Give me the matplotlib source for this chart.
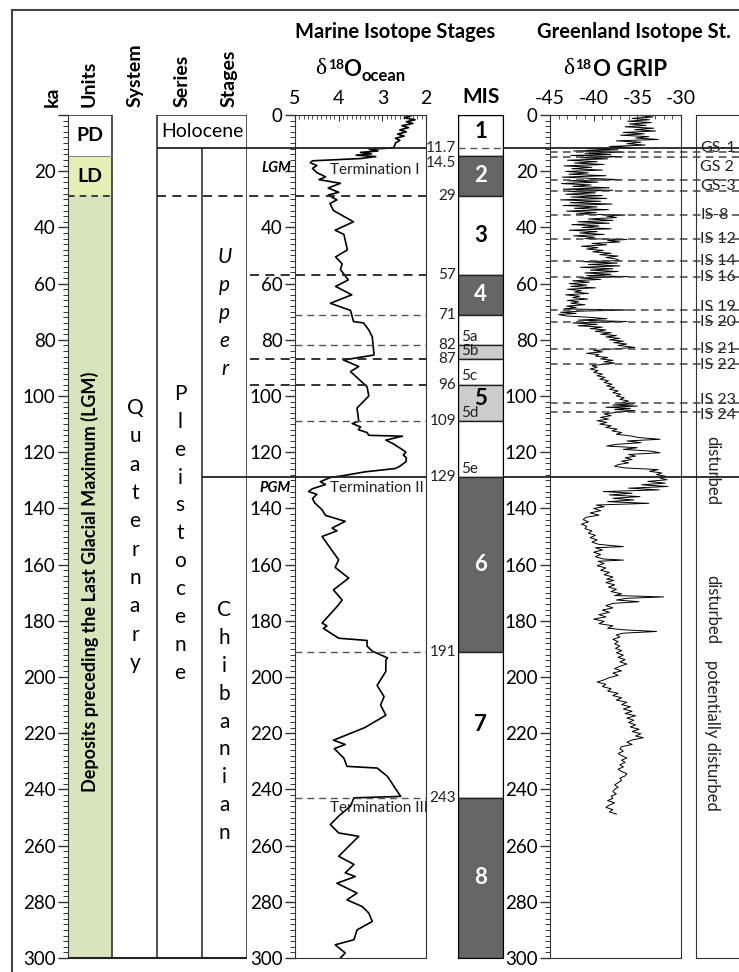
import matplotlib
matplotlib.use("Agg")
import matplotlib.pyplot as plt
from matplotlib.lines import Line2D
from matplotlib.ticker import MultipleLocator

# ----------------------------------------------------------------------
# Chronostratigraphic chart: units, marine isotope stages, GRIP d18O
# ----------------------------------------------------------------------

plt.rcParams['font.family'] = ['Lato', 'DejaVu Sans']
plt.rcParams['axes.unicode_minus'] = False

# --- lithostratigraphic units (ka)
unit_names = ['PD', 'LD', '']
unit_top = [0, 14.5, 29]
unit_base = [14.5, 29, 300]
unit_colors = ['#ffffff', '#e6efb3', '#d8e4bc']

# --- marine isotope stages
mis_names = ['1', '2', '3', '4', '', '', '', '5', '', '6', '7', '8']
mis_top = [0, 14.5, 29, 57, 71, 82, 87, 96, 109, 129, 191, 243]
mis_base = [14.5, 29, 57, 71, 82, 87, 96, 109, 129, 191, 243, 300]
mis_shade = ['#ffffff', '#666666', '#ffffff', '#666666', '#ffffff', '#cccccc',
             '#ffffff', '#cccccc', '#ffffff', '#666666', '#ffffff', '#666666']
mis_label_ka = [5.8, 21.7, 43, 64, 0, 0, 0, 101, 0, 160, 217, 271.5]
mis_sub = ['5a', '5b', '5c', '5d', '5e']
mis_sub_base = [82, 87, 96, 109, 129]
mis_bounds = ['11.7', '14.5', '29', '57', '71', '82', '87', '96', '109', '129', '191', '243']

# --- terminations
term_names = ['Termination I', 'Termination II', 'Termination III']
term_ka = [19.5, 132.7, 246.6]

# --- Greenland stadials / interstadials
gs_names = ['GS-1', 'GS 2', 'GS-3', 'IS-8', 'IS 12', 'IS 14', 'IS 16',
            'IS 19', 'IS 20', 'IS 21', 'IS 22', 'IS 23', 'IS 24']
gs_label_ka = [11.7, 18.5, 25.4, 35.6, 44.2, 51.8, 57.5, 68.2, 73.7, 83.1, 88.8, 101.3, 106.6]
grip_events = [13.2, 15.0, 23.0, 27.0, 35.6, 44.2, 51.8, 57.5, 69.4, 73.5, 83.3, 88.6, 102.4, 105.8]
grip_notes = ['disturbed', 'disturbed', 'potentially disturbed']
grip_note_ka = [126.5, 176, 220.6]

# --- benthic d18O stack (ka, permil)
marine_curve = [
    (0.3, 2.35), (1.0, 2.50), (1.7, 2.25), (2.4, 2.45), (3.0, 2.30), (3.8, 2.55), (4.5, 2.40),
    (5.3, 2.60), (6.0, 2.45), (6.8, 2.65), (7.5, 2.50), (8.3, 2.70), (9.0, 2.60), (10.0, 2.70),
    (11.0, 2.72), (11.7, 2.75), (12.2, 3.30), (12.8, 3.10), (13.3, 3.50), (13.8, 3.25),
    (14.3, 3.60), (14.8, 3.15), (15.5, 3.50), (16.3, 4.60), (17.0, 4.65), (18.0, 4.50),
    (19.0, 4.60), (20.5, 4.50), (22.0, 4.30), (23.0, 4.45), (24.3, 3.96), (26.0, 4.24),
    (27.5, 4.00), (28.5, 4.24), (30.2, 4.04), (31.5, 4.20), (34.0, 4.12), (38.0, 3.66),
    (41.0, 4.08), (42.5, 3.88), (48.0, 3.80), (50.5, 4.07), (53.0, 3.92), (55.0, 3.96),
    (58.7, 3.78), (61.0, 4.07), (64.0, 3.70), (67.0, 4.19), (68.5, 3.92), (69.5, 3.73),
    (73.5, 3.66), (74.0, 3.43), (76.5, 3.31), (79.0, 3.23), (85.4, 3.19), (87.2, 3.89),
    (89.5, 3.54), (91.3, 3.73), (96.7, 3.35), (100.0, 3.31), (104.3, 3.58), (109.0, 3.54),
    (109.8, 3.69), (111.0, 3.50), (112.0, 3.55), (113.0, 3.35), (114.0, 3.31), (114.3, 2.54),
    (115.7, 2.92), (117.0, 2.75), (118.0, 2.65), (119.0, 2.55), (120.0, 2.46), (121.0, 2.52),
    (122.0, 2.45), (123.4, 2.46), (125.0, 2.60), (125.8, 2.70), (127.0, 3.40), (128.3, 3.88),
    (129.0, 4.19), (130.5, 4.42), (131.5, 4.30), (133.0, 4.60), (134.0, 4.69), (135.0, 4.50),
    (136.5, 4.60), (138.0, 4.55), (140.5, 4.38), (142.5, 4.30), (144.6, 3.85), (147.0, 4.15),
    (148.0, 4.04), (150.0, 4.38), (158.3, 4.00), (161.0, 4.08), (164.8, 3.77), (169.0, 4.12),
    (172.6, 3.92), (175.0, 4.04), (180.8, 4.38), (181.8, 4.27), (182.7, 4.35), (186.2, 4.00),
    (187.0, 3.35), (189.0, 3.35), (190.8, 3.23), (193.2, 2.88), (194.0, 2.92), (198.0, 2.92),
    (203.0, 3.12), (207.0, 2.96), (210.0, 3.04), (213.6, 2.92), (218.0, 3.40), (222.5, 4.12),
    (224.0, 3.85), (225.5, 4.10), (228.9, 3.88), (231.8, 3.81), (232.4, 3.12), (235.4, 2.88),
    (239.0, 2.73), (242.5, 2.58), (243.0, 3.65), (246.0, 3.73), (249.5, 4.00), (252.5, 4.19),
    (255.5, 4.00), (256.7, 3.54), (263.8, 4.00), (266.7, 3.65), (269.7, 3.85), (271.0, 3.62),
    (273.4, 4.04), (276.9, 3.58), (279.3, 3.81), (281.7, 3.46), (284.0, 3.31), (287.0, 3.23),
    (290.0, 3.58), (293.5, 3.65), (295.3, 4.08), (298.2, 3.85), (300.0, 3.96),
]

# --- GRIP ice core d18O (ka, permil)
grip_curve = [
    (0.2, -34.8), (0.7, -33.2), (1.2, -35.6), (1.7, -33.6), (2.2, -36.1), (2.7, -33.4),
    (3.2, -35.9), (3.7, -34.0), (4.2, -36.4), (4.7, -33.1), (5.2, -35.3), (5.7, -32.9),
    (6.2, -36.6), (6.7, -34.2), (7.2, -36.9), (7.7, -33.7), (8.2, -35.2), (8.7, -32.6),
    (9.2, -37.4), (9.7, -34.6), (10.2, -36.2), (10.7, -34.1), (11.2, -38.2), (11.6, -35.4),
    (12.0, -40.8), (12.4, -37.2), (12.8, -42.3), (13.2, -36.5), (13.6, -41.0), (14.0, -38.0),
    (14.4, -42.6), (14.8, -36.8), (15.2, -41.5), (15.6, -38.4), (16.1, -43.0), (16.6, -39.6),
    (17.1, -42.2), (17.6, -38.8), (18.1, -43.4), (18.6, -40.2), (19.1, -42.5), (19.6, -39.0),
    (20.1, -43.2), (20.6, -40.6), (21.1, -42.8), (21.6, -38.6), (22.1, -43.6), (22.6, -40.0),
    (23.0, -37.0), (23.4, -43.0), (23.9, -39.5), (24.4, -43.7), (24.9, -40.3), (25.4, -42.4),
    (25.9, -38.2), (26.4, -43.5), (26.8, -37.8), (27.2, -42.9), (27.7, -39.8), (28.2, -43.2),
    (28.7, -39.0), (29.2, -42.6), (29.7, -38.5), (30.2, -43.8), (30.7, -39.2), (31.2, -42.7),
    (31.7, -37.9), (32.2, -43.5), (32.7, -39.6), (33.2, -42.2), (33.7, -38.3), (34.2, -43.1),
    (34.7, -39.7), (35.2, -42.0), (35.6, -36.4), (36.0, -38.5), (36.5, -37.4), (37.0, -40.6),
    (37.5, -37.8), (38.0, -41.8), (38.5, -38.2), (39.0, -42.5), (39.5, -39.4), (40.0, -41.3),
    (40.5, -38.0), (41.0, -42.8), (41.5, -39.6), (42.0, -41.6), (42.5, -38.8), (43.0, -42.3),
    (43.5, -39.9), (44.0, -41.0), (44.3, -36.2), (44.7, -38.4), (45.2, -37.0), (45.7, -40.2),
    (46.2, -38.5), (46.7, -41.4), (47.2, -39.5), (47.7, -40.8), (48.2, -38.9), (48.7, -40.1),
    (49.2, -38.0), (49.7, -39.3), (50.2, -37.2), (50.7, -38.6), (51.2, -37.5), (51.8, -37.0),
    (52.2, -41.2), (52.7, -37.3), (53.2, -40.6), (53.7, -37.0), (54.2, -41.5), (54.7, -37.8),
    (55.2, -40.4), (55.7, -37.2), (56.2, -41.0), (56.7, -38.0), (57.2, -40.8), (57.5, -36.0),
    (58.0, -41.6), (58.5, -39.2), (59.0, -42.4), (59.5, -40.5), (60.0, -42.8), (60.5, -40.8),
    (61.0, -42.6), (61.5, -39.8), (62.0, -43.0), (62.5, -41.4), (63.0, -42.2), (63.5, -40.6),
    (64.0, -43.2), (64.5, -41.6), (65.0, -42.4), (65.5, -40.7), (66.0, -43.0), (66.5, -41.7),
    (67.0, -42.6), (67.5, -41.0), (68.0, -43.1), (68.5, -42.0), (69.0, -43.4), (69.4, -36.0),
    (69.8, -41.5), (70.2, -43.8), (70.6, -42.0), (71.0, -44.0), (71.5, -43.2), (72.0, -40.5),
    (72.5, -38.5), (73.0, -41.8), (73.5, -36.2), (74.0, -42.4), (74.5, -39.6), (75.0, -41.8),
    (75.5, -39.0), (76.0, -40.4), (76.5, -38.6), (77.0, -39.8), (77.5, -38.0), (78.0, -39.2),
    (78.5, -37.4), (79.0, -38.6), (79.5, -37.0), (80.0, -38.2), (80.5, -36.6), (81.0, -37.7),
    (81.5, -36.2), (82.0, -37.2), (82.7, -35.3), (83.3, -37.8), (83.8, -40.0), (84.3, -39.0),
    (84.8, -40.8), (85.3, -39.4), (85.8, -39.8), (86.3, -38.4), (86.8, -39.2), (87.3, -37.8),
    (87.8, -38.8), (88.3, -37.6), (88.6, -38.5), (89.2, -40.2), (89.8, -39.6), (90.4, -40.4),
    (91.0, -39.5), (91.6, -40.0), (92.2, -39.0), (92.8, -39.6), (93.4, -38.7), (94.0, -39.3),
    (94.6, -38.3), (95.2, -38.8), (95.8, -37.9), (96.4, -38.5), (97.0, -37.6), (97.6, -38.2),
    (98.2, -37.2), (98.8, -37.8), (99.4, -36.9), (100.0, -37.4), (100.6, -36.5), (101.2, -37.0),
    (101.8, -36.0), (102.4, -36.8), (102.8, -35.4), (103.2, -37.8), (103.6, -35.0), (104.0, -38.6),
    (104.4, -35.8), (104.8, -37.6), (105.2, -35.3), (105.8, -37.4), (106.4, -38.8), (107.0, -38.0),
    (107.6, -39.2), (108.2, -38.3), (108.8, -39.6), (109.4, -38.5), (110.0, -39.3), (110.6, -38.0),
    (111.2, -38.6), (111.8, -37.3), (112.4, -37.9), (113.0, -36.8), (113.6, -37.4), (114.2, -35.8),
    (114.8, -34.8), (115.4, -32.4), (116.0, -36.2), (116.6, -34.6), (117.2, -37.4), (117.8, -38.5),
    (118.4, -35.0), (119.0, -36.6), (119.6, -33.5), (120.2, -32.4), (120.8, -36.0), (121.4, -35.2),
    (122.0, -36.4), (122.6, -35.6), (123.2, -36.8), (123.8, -36.0), (124.4, -37.2), (125.0, -37.6),
    (125.6, -36.4), (126.2, -32.6), (126.8, -33.6), (127.4, -32.2), (128.0, -32.8), (128.6, -31.7),
    (129.2, -32.4), (129.8, -31.6), (130.4, -33.8), (131.0, -31.8), (131.6, -34.5), (132.2, -31.5),
    (132.8, -36.0), (133.4, -32.5), (134.0, -38.9), (134.6, -35.6), (135.2, -38.2), (135.8, -34.7),
    (136.4, -37.8), (137.0, -35.4), (137.6, -38.4), (138.2, -33.7), (138.8, -39.7), (139.4, -38.8),
    (140.0, -40.0), (140.8, -39.2), (141.6, -40.4), (142.4, -39.4), (143.2, -40.9), (144.0, -41.2),
    (144.8, -40.6), (145.6, -41.4), (146.4, -40.8), (147.2, -41.0), (148.0, -40.2), (148.8, -40.6),
    (149.6, -39.8), (150.4, -40.4), (151.2, -39.6), (152.0, -40.2), (152.8, -39.4), (153.6, -36.6),
    (154.0, -39.8), (154.8, -39.0), (155.6, -40.0), (156.4, -39.2), (157.2, -39.8), (158.0, -38.9),
    (158.4, -36.6), (158.8, -39.5), (159.6, -38.8), (160.4, -39.6), (161.2, -38.6), (162.0, -39.2),
    (162.8, -38.2), (163.6, -38.8), (164.4, -37.8), (165.2, -38.5), (165.6, -37.7), (166.4, -38.6),
    (167.2, -37.6), (168.0, -38.3), (168.8, -37.4), (169.6, -38.0), (170.4, -36.8), (171.0, -37.6),
    (171.5, -32.0), (172.0, -36.2), (172.6, -37.4), (173.2, -34.8), (173.8, -37.8), (174.6, -38.6),
    (175.4, -37.8), (176.2, -39.0), (177.0, -38.2), (177.8, -39.4), (178.6, -38.6), (179.4, -40.0),
    (180.2, -38.8), (181.0, -39.4), (181.8, -37.8), (182.6, -38.4), (183.2, -36.6), (183.8, -32.8),
    (184.4, -36.6), (185.0, -37.4), (185.8, -37.0), (186.6, -37.8), (187.4, -37.2), (188.2, -37.6),
    (189.0, -37.0), (189.8, -37.5), (190.6, -36.8), (191.4, -37.4), (192.2, -36.6), (193.0, -37.2),
    (193.8, -36.4), (194.6, -37.0), (195.4, -36.2), (196.2, -37.0), (197.0, -37.6), (197.8, -36.8),
    (198.6, -37.8), (199.4, -37.2), (200.2, -38.2), (201.0, -38.8), (201.8, -39.6), (202.6, -38.6),
    (203.4, -39.0), (204.2, -38.0), (205.0, -38.4), (205.8, -37.2), (206.6, -37.8), (207.4, -36.8),
    (208.2, -37.4), (209.0, -36.2), (209.8, -36.8), (210.6, -35.8), (211.4, -36.6), (212.2, -35.6),
    (213.0, -36.4), (213.8, -35.2), (214.6, -36.2), (215.4, -35.4), (216.2, -36.0), (217.0, -35.2),
    (217.8, -35.8), (218.6, -34.8), (219.4, -35.6), (220.2, -34.6), (221.0, -35.2), (221.6, -34.3),
    (222.4, -35.6), (223.2, -36.2), (224.0, -35.6), (224.8, -36.8), (225.6, -37.0), (226.4, -36.6),
    (227.2, -37.2), (228.0, -36.8), (228.8, -36.2), (229.6, -36.8), (230.4, -36.4), (231.2, -37.0),
    (232.0, -36.6), (232.8, -37.2), (233.6, -36.8), (234.4, -36.2), (235.2, -36.4), (236.0, -37.0),
    (236.8, -36.8), (237.6, -37.2), (238.4, -37.6), (239.2, -37.2), (240.0, -37.6), (240.8, -37.8),
    (241.6, -37.4), (242.4, -38.0), (243.2, -37.8), (244.0, -38.4), (244.8, -37.6), (245.6, -38.2),
    (246.4, -38.6), (247.2, -37.8), (248.0, -38.2), (248.8, -37.4),
]

# ----------------------------------------------------------------------
# layout (figure pixels)
# ----------------------------------------------------------------------
W, H = 739, 972
TOP, BOT = 115, 958          # rows of 0 ka and 300 ka
INK = '#222222'

fig = plt.figure(figsize=(W / 100, H / 100), dpi=100)


def add_ax(x0, x1):
    return fig.add_axes([x0 / W, 1 - BOT / H, (x1 - x0) / W, (BOT - TOP) / H])


def ftext(x, y, s, **kw):
    fig.text(x / W, 1 - y / H, s, **kw)


def depth_axis(ax, hidden=()):
    ax.set_ylim(300, 0)
    ticks = list(range(0, 301, 20))
    ax.set_yticks(ticks)
    ax.set_yticklabels(['' if t in hidden else str(t) for t in ticks])
    ax.yaxis.set_minor_locator(MultipleLocator(2))
    ax.tick_params(axis='y', which='major', length=7, width=1, labelsize=13.5, pad=2, color='#333')
    ax.tick_params(axis='y', which='minor', length=3.5, width=0.7, color='#333')


# outer frame
fig.add_artist(Line2D([12 / W, 12 / W], [1 - 10 / H, 0], color='#444', lw=1.5))
fig.add_artist(Line2D([12 / W, 1], [1 - 10 / H, 1 - 10 / H], color='#444', lw=1.5))

# --- stratigraphic columns --------------------------------------------
ax_s = add_ax(68, 247)
ax_s.set_xlim(68, 247)
depth_axis(ax_s, hidden=(0,))
ax_s.set_xticks([])
for side in ['top', 'right', 'bottom']:
    ax_s.spines[side].set_visible(False)
ax_s.spines['left'].set_color('#333')
ax_s.bar(90, [b - t for t, b in zip(unit_top, unit_base)], bottom=unit_top, width=44,
         color=unit_colors, edgecolor='none', zorder=1)
ax_s.vlines([112, 157, 247], 0, 300, color=INK, lw=1.1)
ax_s.vlines(202, 11.7, 300, color=INK, lw=1.1)
ax_s.hlines(0, 68, 112, color=INK, lw=1.1)
ax_s.hlines(0, 157, 247, color=INK, lw=1.1)
ax_s.hlines(300, 68, 247, color=INK, lw=1.5, clip_on=False)
ax_s.hlines(14.5, 68, 112, color='#888', lw=0.8)
ax_s.hlines(29, 68, 112, color=INK, lw=1.2, linestyles=(0, (4, 3)))

# --- marine isotope curve ---------------------------------------------
ax_m = add_ax(295, 426)
ax_m.plot([v for _, v in marine_curve], [k for k, _ in marine_curve], color='black', lw=1.2)
ax_m.set_xlim(5, 2)
depth_axis(ax_m, hidden=(20,))
ax_m.xaxis.tick_top()
ax_m.set_xticks([5, 4, 3, 2])
ax_m.xaxis.set_minor_locator(MultipleLocator(0.1))
ax_m.tick_params(axis='x', which='both', direction='in', labelsize=14, pad=6, color='#333')
ax_m.tick_params(axis='x', which='major', length=4)
ax_m.tick_params(axis='x', which='minor', length=3)
for sp in ax_m.spines.values():
    sp.set_color('#333')

# --- MIS column -------------------------------------------------------
ax_c = add_ax(458, 503)
ax_c.set_xlim(0, 1)
ax_c.set_ylim(300, 0)
ax_c.bar(0.5, [b - t for t, b in zip(mis_top, mis_base)], bottom=mis_top, width=1,
         color=mis_shade, edgecolor=INK, lw=1)
ax_c.set_xticks([])
ax_c.set_yticks([])
for name, ka, shade in zip(mis_names, mis_label_ka, mis_shade):
    if name:
        ax_c.text(0.5, ka, name, ha='center', va='center', fontsize=16, fontweight='bold',
                  color='white' if shade == '#666666' else 'black')
for name, ka in zip(mis_sub, mis_sub_base):
    ax_c.text(0.06, ka - 0.5, name, ha='left', va='bottom', fontsize=11, color='#222')

# --- GRIP curve -------------------------------------------------------
ax_g = add_ax(550, 681)
ax_g.plot([v for _, v in grip_curve], [k for k, _ in grip_curve], color='black', lw=0.7)
ax_g.set_xlim(-45, -30)
depth_axis(ax_g)
ax_g.xaxis.tick_top()
ax_g.set_xticks([-45, -40, -35, -30])
ax_g.xaxis.set_minor_locator(MultipleLocator(1))
ax_g.tick_params(axis='x', which='both', direction='in', labelsize=14, pad=6, color='#333')
ax_g.tick_params(axis='x', which='major', length=4)
ax_g.tick_params(axis='x', which='minor', length=3)
for sp in ax_g.spines.values():
    sp.set_color('#333')

# --- Greenland stadial column (cut by the right page edge) ------------
ax_r = add_ax(696, 800)
ax_r.set_ylim(300, 0)
ax_r.set_xticks([])
ax_r.set_yticks([])
for sp in ax_r.spines.values():
    sp.set_color('#333')

# --- overlay: lines and labels in (pixel x, ka) -----------------------
ov = add_ax(0, W)
ov.set_xlim(0, W)
ov.set_ylim(300, 0)
ov.axis('off')

solid = dict(color=INK, lw=1.3)
dark_dash = dict(color=INK, lw=1.3, linestyles=(0, (5, 3.5)))
light_dash = dict(color='#555', lw=1.0, linestyles=(0, (5, 3.5)))

ov.hlines(11.7, 157, 426, **solid)
ov.hlines(11.7, 503, W, **solid)
ov.hlines(11.7, 458, 503, **light_dash)
ov.hlines(129, 202, 426, **solid)
ov.hlines(129, 503, W, **solid)
ov.hlines(29, 157, 426, **dark_dash)
ov.hlines([57, 87, 96], 250, 426, **dark_dash)
ov.hlines([71, 82, 109, 191, 243], 295, 426, **light_dash)
ov.hlines(grip_events, 550, W, color='#444', lw=1.1, linestyles=(0, (5, 3.5)))

for name, ka in zip(mis_bounds, [float(b) for b in mis_bounds]):
    ov.text(456, ka, name, ha='right', va='top' if name == '14.5' else 'center',
            fontsize=11, color='#222')

for name, ka in zip(term_names, term_ka):
    ov.text(330, ka, name, ha='left', va='center', fontsize=11, color='#222')
ov.text(291, 19.0, 'LGM', ha='right', va='center', fontsize=10.5,
        fontweight='bold', fontstyle='italic')
ov.text(291, 132.7, 'PGM', ha='right', va='center', fontsize=10.5,
        fontweight='bold', fontstyle='italic')

for name, ka in zip(gs_names, gs_label_ka):
    ov.text(700, ka, name, ha='left', va='center', fontsize=11.5, color='#222', zorder=1)
for name, ka in zip(grip_notes, grip_note_ka):
    ov.text(712, ka, name, ha='center', va='center', rotation=270, fontsize=12, color='#222')

# unit and chronostratigraphic names
for name, t, b in zip(unit_names, unit_top, unit_base):
    if name:
        ov.text(90, (t + b) / 2, name, ha='center', va='center', fontsize=14, fontweight='bold')
ov.text(90, 166, 'Deposits preceding the Last Glacial Maximum (LGM)', rotation=90,
        ha='center', va='center', fontsize=13, fontweight='bold')
ov.text(202, 5.8, 'Holocene', ha='center', va='center', fontsize=14)


def stacked(word, x, ka0, step, **kw):
    for i, ch in enumerate(word):
        ov.text(x, ka0 + i * step, ch, ha='center', va='center', fontsize=15, **kw)


stacked('Quaternary', 135, 104.2, 10.1)
stacked('Pleistocene', 180, 99.2, 9.94)
stacked('Upper', 224.5, 50.7, 9.9, fontstyle='italic')
stacked('Chibanian', 224.5, 176, 9.96)

# --- headers ----------------------------------------------------------
for name, x in [('ka', 52), ('Units', 89), ('System', 135), ('Series', 182), ('Stages', 229)]:
    ftext(x, 107, name, rotation=90, ha='center', va='bottom', fontsize=14, fontweight='bold')

ftext(295, 32, 'Marine Isotope Stages', ha='left', va='center', fontsize=14.5, fontweight='bold')
ftext(537, 32, 'Greenland Isotope St.', ha='left', va='center', fontsize=14.5, fontweight='bold')
ftext(481, 97, 'MIS', ha='center', va='center', fontsize=15, fontweight='bold')

ftext(315, 68, '\u03b4', family=['Liberation Serif', 'DejaVu Serif'], ha='left', va='center', fontsize=17)
ftext(328, 65, '18', ha='left', va='center', fontsize=10, fontweight='bold')
ftext(343, 70, 'O', ha='left', va='center', fontsize=16, fontweight='bold')
ftext(361, 76, 'ocean', ha='left', va='center', fontsize=12, fontweight='bold')

ftext(563, 68, '\u03b4', family=['Liberation Serif', 'DejaVu Serif'], ha='left', va='center', fontsize=17)
ftext(575, 65, '18', ha='left', va='center', fontsize=10, fontweight='bold')
ftext(593, 69, 'O GRIP', ha='left', va='center', fontsize=16, fontweight='bold')

fig.savefig('out.png', dpi=100)
